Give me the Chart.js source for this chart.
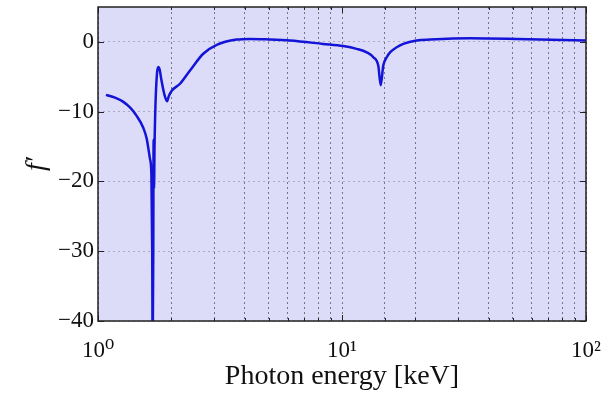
<!DOCTYPE html>
<html lang="en">
<head>
  <meta charset="UTF-8">
  <title>f' vs photon energy</title>
  <script src="https://cdn.jsdelivr.net/npm/chart.js"></script>
  <style>
    body { margin: 0; background: #ffffff; }
    #wrap { width: 610px; height: 394px; position: relative; }
  </style>
</head>
<body>
  <div id="wrap"><canvas id="fChart"></canvas></div>

  <script>
    // photon energy (keV) and f'
    const energy = [1.078, 1.174, 1.27, 1.352, 1.44, 1.533, 1.584, 1.634, 1.655, 1.668, 1.675,
                    1.685, 1.69, 1.697, 1.705, 1.72, 1.745, 1.767, 1.79, 1.82, 1.87, 1.92, 1.95,
                    2.005, 2.168, 2.383, 2.70, 3.066, 3.70, 4.20, 5.0, 6.12, 8.36, 10.12, 11.48,
                    12.63, 13.44, 14.08, 14.41, 14.76, 15.25, 15.73, 16.76, 17.83, 20.23, 22.95,
                    33.47, 52.0, 100];
    const fPrime = [-7.6, -8.0, -8.6, -9.4, -10.6, -12.3, -13.9, -16.8, -19, -30, -45,
                    -30, -14, -21, -15, -9, -4.5, -3.6, -4.0, -5.5, -7.5, -8.5, -7.8,
                    -7.0, -6.0, -4.1, -1.7, -0.43, 0.33, 0.43, 0.35, 0.19, -0.29, -0.6, -1.0,
                    -1.5, -2.2, -3.4, -6.2, -3.4, -2.2, -1.5, -0.77, -0.29, 0.19, 0.33,
                    0.53, 0.43, 0.19];

    const xTickValues = [1, 10, 100];
    const xTickLabels = ['10\u2070', '10\u00b9', '10\u00b2'];

    const serif = "'Liberation Serif', 'DejaVu Serif', serif";

    // lavender plot box, black frame and matlab-style inward ticks
    const boxPlugin = {
      id: 'box',
      beforeDraw(chart) {
        const a = chart.chartArea, ctx = chart.ctx;
        ctx.save();
        ctx.fillStyle = 'rgb(220,220,248)';
        ctx.fillRect(a.left, a.top, a.right - a.left, a.bottom - a.top);
        ctx.restore();
      },
      afterDraw(chart) {
        const a = chart.chartArea, ctx = chart.ctx;
        const xs = chart.scales.x, ys = chart.scales.y;
        ctx.save();
        ctx.strokeStyle = '#222';
        ctx.lineWidth = 1;
        ctx.beginPath();
        xs.ticks.forEach(t => {
          const px = Math.round(xs.getPixelForValue(t.value)) + 0.5;
          const len = t.major ? 6 : 3;
          ctx.moveTo(px, a.bottom); ctx.lineTo(px, a.bottom - len);
          ctx.moveTo(px, a.top); ctx.lineTo(px, a.top + len);
        });
        ys.ticks.forEach(t => {
          const py = Math.round(ys.getPixelForValue(t.value)) + 0.5;
          ctx.moveTo(a.left, py); ctx.lineTo(a.left + 6, py);
          ctx.moveTo(a.right, py); ctx.lineTo(a.right - 6, py);
        });
        ctx.stroke();
        ctx.lineWidth = 1.5;
        ctx.strokeRect(a.left, a.top, a.right - a.left, a.bottom - a.top);
        ctx.restore();
      }
    };

    const ctx = document.getElementById('fChart').getContext('2d');
    new Chart(ctx, {
      type: 'line',
      data: {
        datasets: [{
          data: energy.map((e, i) => ({ x: e, y: fPrime[i] })),
          borderColor: '#1414d8',
          borderWidth: 2.5,
          pointRadius: 0,
          fill: false,
          cubicInterpolationMode: 'monotone'
        }]
      },
      options: {
        animation: false,
        responsive: true,
        maintainAspectRatio: false,
        layout: { padding: { top: 7, right: 24, bottom: 0, left: 0 } },
        plugins: { legend: { display: false }, tooltip: { enabled: false } },
        scales: {
          x: {
            type: 'logarithmic',
            min: 1,
            max: 100,
            afterFit: s => { s.height = 73; s.paddingLeft = 0; s.paddingRight = 0; },
            border: { display: false, dash: [2, 3] },
            grid: { color: 'rgba(70,70,90,0.7)', lineWidth: 1, drawTicks: false },
            ticks: {
              autoSkip: false,
              maxRotation: 0,
              padding: 16,
              color: '#111',
              font: { family: serif, size: 23 },
              callback: v => {
                const i = xTickValues.indexOf(Number(v));
                return i >= 0 ? xTickLabels[i] : '';
              }
            },
            title: {
              display: true,
              text: 'Photon energy [keV]',
              color: '#111',
              font: { family: serif, size: 28 },
              padding: { top: 0, bottom: 1 }
            }
          },
          y: {
            min: -40,
            max: 5,
            afterFit: s => { s.width = 98; s.paddingTop = 0; s.paddingBottom = 0; },
            border: { display: false, dash: [2, 3] },
            grid: { color: 'rgba(110,110,140,0.45)', lineWidth: 1, drawTicks: false },
            ticks: {
              stepSize: 10,
              includeBounds: false,
              padding: 4,
              color: '#111',
              font: { family: serif, size: 23 },
              callback: v => String(v).replace('-', '\u2212')
            },
            title: {
              display: true,
              text: 'f\u2032',
              color: '#111',
              font: { family: serif, size: 28, style: 'italic' },
              padding: { top: 20, bottom: 0 }
            }
          }
        }
      },
      plugins: [boxPlugin]
    });
  </script>
</body>
</html>
